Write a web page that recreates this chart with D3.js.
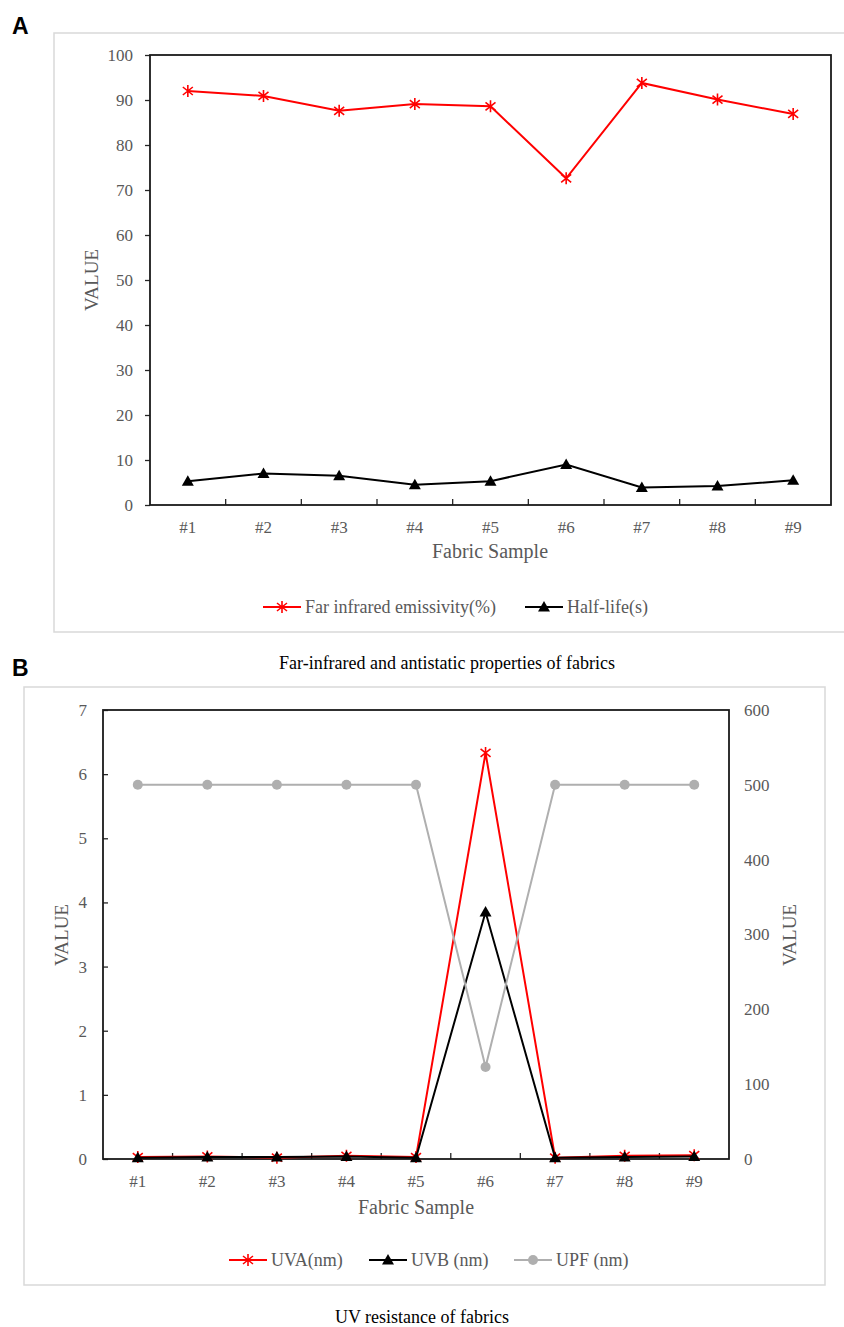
<!DOCTYPE html>
<html>
<head>
<meta charset="utf-8">
<script src="https://cdn.jsdelivr.net/npm/d3@7"></script>
<style>
  body { margin: 0; background: #fff; }
  svg { display: block; }
  svg text { font-family: 'Liberation Serif', 'Times New Roman', Times, serif; }
  svg text.panel-tag { font-family: 'Liberation Sans', Arial, sans-serif; font-weight: bold; }
</style>
</head>
<body>
<svg id="chart" width="844" height="1327"></svg>
<script>
// Fabric samples shared by both panels
const samples = ["#1", "#2", "#3", "#4", "#5", "#6", "#7", "#8", "#9"];

// Panel A: far-infrared and antistatic
const emissivity = [92.0, 90.9, 87.6, 89.1, 88.6, 72.6, 93.8, 90.1, 86.9];
const halfLife = [5.3, 7.0, 6.5, 4.5, 5.3, 9.0, 3.9, 4.2, 5.5];
const yTicksA = [0, 10, 20, 30, 40, 50, 60, 70, 80, 90, 100];

// Panel B: UV resistance
const uva = [0.03, 0.04, 0.02, 0.05, 0.03, 6.33, 0.02, 0.05, 0.06];
const uvb = [0.02, 0.03, 0.03, 0.04, 0.02, 3.85, 0.02, 0.03, 0.04];
const upf = [500, 500, 500, 500, 500, 123, 500, 500, 500];
const yTicksBLeft = [0, 1, 2, 3, 4, 5, 6, 7];
const yTicksBRight = [0, 100, 200, 300, 400, 500, 600];

const labelGray = "#595959";
const svg = d3.select("#chart");

// marker shapes (centered at 0,0)
const starPath = "M0,-6L0,6M-5,-4L5,4M-5,4L5,-4";
const triPath = "M0,-6L6,4.5L-6,4.5Z";

function drawMarker(g, kind, color) {
  if (kind === "star") {
    g.append("path").attr("d", starPath).attr("fill", "none")
      .attr("stroke", color).attr("stroke-width", 1.6);
  } else if (kind === "tri") {
    g.append("path").attr("d", triPath).attr("fill", color);
  } else {
    g.append("circle").attr("r", 5).attr("fill", color);
  }
}

function drawSeries(values, x, y, color, kind) {
  const cx = (d) => x(d) + x.bandwidth() / 2;
  const line = d3.line().x((d, i) => cx(samples[i])).y((d) => y(d));
  svg.append("path").datum(values).attr("d", line)
    .attr("fill", "none").attr("stroke", color).attr("stroke-width", 2);
  svg.append("g").selectAll("g").data(values).join("g")
    .attr("transform", (d, i) => `translate(${cx(samples[i])},${y(d)})`)
    .each(function () { drawMarker(d3.select(this), kind, color); });
}

function styleAxis(g) {
  g.attr("font-family", null);
  g.select(".domain").remove();
  g.selectAll("line").attr("stroke", "#262626").attr("stroke-width", 1.3);
  g.selectAll("text").attr("fill", labelGray).style("font-size", "17px");
}

// small inward ticks on the category boundaries
function bandTicks(x, y0, len) {
  const edges = samples.slice(1).map((s) => x(s));
  svg.append("g").selectAll("line").data(edges).join("line")
    .attr("x1", (d) => d).attr("x2", (d) => d)
    .attr("y1", y0).attr("y2", y0 - len)
    .attr("stroke", "#262626").attr("stroke-width", 1.3);
}

function frame(x0, y0, x1, y1) {
  svg.append("rect").attr("x", x0).attr("y", y0)
    .attr("width", x1 - x0).attr("height", y1 - y0)
    .attr("fill", "none").attr("stroke", "#1a1a1a").attr("stroke-width", 1.8);
}

function text(x, y, str, opts = {}) {
  return svg.append("text").attr("x", x).attr("y", y)
    .attr("class", opts.cls || null)
    .attr("text-anchor", opts.anchor || "middle")
    .attr("fill", opts.fill || labelGray)
    .style("font-size", (opts.size || 19) + "px")
    .attr("transform", opts.rotate ? `rotate(-90,${x},${y})` : null)
    .text(str);
}

function legend(items, y) {
  items.forEach((it) => {
    svg.append("line").attr("x1", it.x).attr("x2", it.x + 38).attr("y1", y).attr("y2", y)
      .attr("stroke", it.color).attr("stroke-width", 2);
    drawMarker(svg.append("g").attr("transform", `translate(${it.x + 19},${y})`), it.kind, it.color);
    text(it.x + 42, y + 6, it.label, { anchor: "start", size: 18 });
  });
}

// ---------- Panel A ----------
svg.append("rect").attr("x", 54).attr("y", 33).attr("width", 800).attr("height", 599)
  .attr("fill", "none").attr("stroke", "#d9d9d9").attr("stroke-width", 1.5);
text(12, 34, "A", { anchor: "start", fill: "#000", size: 23, cls: "panel-tag" });

const xA = d3.scaleBand().domain(samples).range([150, 831]);
const yA = d3.scaleLinear().domain([0, 100]).range([505, 55]);

svg.append("g").attr("transform", "translate(150,0)")
  .call(d3.axisLeft(yA).tickValues(yTicksA).tickFormat(d3.format("d")).tickSize(5).tickPadding(12))
  .call(styleAxis);
svg.append("g").attr("transform", "translate(0,505)")
  .call(d3.axisBottom(xA).tickSize(0).tickPadding(16))
  .call(styleAxis);
bandTicks(xA, 505, 6);
frame(150, 55, 831, 505);

drawSeries(emissivity, xA, yA, "#ff0000", "star");
drawSeries(halfLife, xA, yA, "#000000", "tri");

text(490, 558, "Fabric Sample", { size: 20 });
text(98, 280, "VALUE", { rotate: true });
legend([
  { x: 263, color: "#ff0000", kind: "star", label: "Far infrared emissivity(%)" },
  { x: 525, color: "#000000", kind: "tri", label: "Half-life(s)" }
], 607);
text(447, 669, "Far-infrared and antistatic properties of fabrics", { fill: "#000", size: 18 });

// ---------- Panel B ----------
svg.append("rect").attr("x", 24).attr("y", 687).attr("width", 801).attr("height", 598)
  .attr("fill", "none").attr("stroke", "#d9d9d9").attr("stroke-width", 1.5);
text(12, 676, "B", { anchor: "start", fill: "#000", size: 23, cls: "panel-tag" });

const xB = d3.scaleBand().domain(samples).range([103, 729]);
const yBL = d3.scaleLinear().domain([0, 7]).range([1159, 710]);
const yBR = d3.scaleLinear().domain([0, 600]).range([1159, 710]);

svg.append("g").attr("transform", "translate(103,0)")
  .call(d3.axisLeft(yBL).tickValues(yTicksBLeft).tickFormat(d3.format("d")).tickSize(-5).tickPadding(16))
  .call(styleAxis);
svg.append("g").attr("transform", "translate(729,0)")
  .call(d3.axisRight(yBR).tickValues(yTicksBRight).tickFormat(d3.format("d")).tickSize(0).tickPadding(15))
  .call(styleAxis);
svg.append("g").attr("transform", "translate(0,1159)")
  .call(d3.axisBottom(xB).tickSize(0).tickPadding(16))
  .call(styleAxis);
bandTicks(xB, 1159, 6);
frame(103, 710, 729, 1159);

drawSeries(uva, xB, yBL, "#ff0000", "star");
drawSeries(uvb, xB, yBL, "#000000", "tri");
drawSeries(upf, xB, yBR, "#afafaf", "dot");

text(416, 1214, "Fabric Sample", { size: 20 });
text(68, 935, "VALUE", { rotate: true });
text(796, 935, "VALUE", { rotate: true });
legend([
  { x: 229, color: "#ff0000", kind: "star", label: "UVA(nm)" },
  { x: 369, color: "#000000", kind: "tri", label: "UVB (nm)" },
  { x: 514, color: "#afafaf", kind: "dot", label: "UPF (nm)" }
], 1260);
text(422, 1323, "UV resistance of fabrics", { fill: "#000", size: 18 });
</script>
</body>
</html>
